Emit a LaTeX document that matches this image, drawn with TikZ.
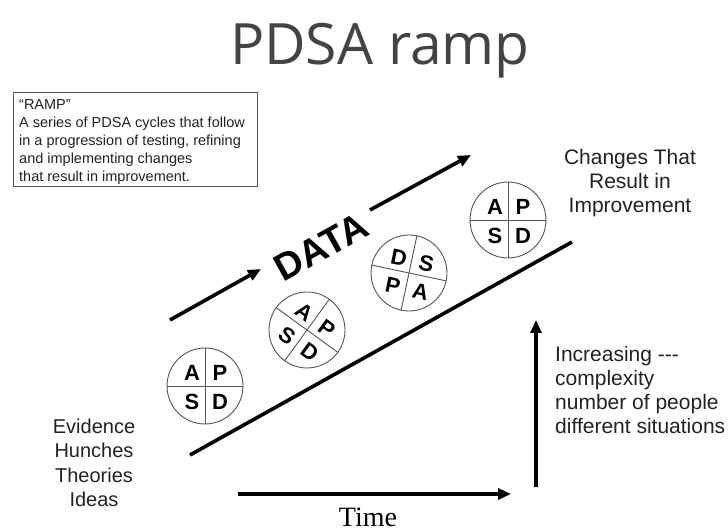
\documentclass[tikz,border=0pt]{standalone}
\usepackage{fontspec}
\setmainfont{Liberation Sans}
\newfontfamily\titlefont{Open Sans}
\newfontfamily\timefont{Liberation Serif}
\usetikzlibrary{arrows.meta}
\definecolor{txt}{HTML}{222222}
\definecolor{ring}{HTML}{555555}
\tikzset{
  thick arrow/.style={line width=3.6pt, -{Triangle[length=13pt,width=11pt]}},
  ramp line/.style={line width=3.6pt},
  pdsa ring/.style={circle, draw=ring, line width=0.9pt, minimum size=76pt, inner sep=0pt},
  divider/.style={draw=ring, line width=0.9pt},
  letter/.style={font=\fontsize{22}{22}\selectfont\bfseries, inner sep=0pt},
  body/.style={font=\fontsize{21}{24}\selectfont, text=txt, inner sep=0pt},
}
\newcommand{\pdsacycle}[7]{%
  \begin{scope}[shift={#1}, rotate=#2, transform shape]
    \node[pdsa ring] (#3) at (0,0) {};
    \draw[divider] (#3.north) -- (#3.south);
    \draw[divider] (#3.west) -- (#3.east);
    \node[letter] (#3-tl) at (-13,13) {#4};
    \node[letter] (#3-tr) at (15,13) {#5};
    \node[letter] (#3-bl) at (-13,-16) {#6};
    \node[letter] (#3-br) at (15,-16) {#7};
  \end{scope}}
\begin{document}
\begin{tikzpicture}[x=1pt,y=1pt]
\useasboundingbox (0,0) rectangle (728,532);
% title
\node[font=\titlefont\fontsize{57}{57}\selectfont, text=txt!85, anchor=base, inner sep=0pt] (title) at (380,467) {PDSA ramp};
% definition box
\node[draw=ring, line width=0.8pt, anchor=north west, minimum width=244pt, minimum height=94pt] (def) at (13,440) {};
\node[anchor=north west, align=flush left, inner sep=0pt, text=txt,
      font=\fontsize{14.5}{18}\selectfont] (deftext) at (19,433)
  {``RAMP''\\A series of PDSA cycles that follow\\in a progression of testing, refining\\and implementing changes\\that result in improvement.};
% DATA arrows
\coordinate (d1s) at (170,212);
\coordinate (d1e) at (261,263);
\coordinate (d2s) at (370,322);
\coordinate (d2e) at (471,377);
\draw[thick arrow] (d1s) -- (d1e);
\draw[thick arrow] (d2s) -- (d2e);
\node[font=\fontsize{38}{38}\selectfont\bfseries, rotate=29, inner sep=0pt] (data) at (321,285) {DATA};
% ramp line
\coordinate (r1) at (190,77);
\coordinate (r2) at (572,290);
\draw[ramp line] (r1) -- (r2);
% PDSA cycles
\pdsacycle{(205,146)}{0}{c1}{A}{P}{S}{D}
\pdsacycle{(307,202)}{-36}{c2}{A}{P}{S}{D}
\pdsacycle{(409,259)}{-12}{c3}{D}{S}{P}{A}
\pdsacycle{(508,312)}{0}{c4}{A}{P}{S}{D}
% labels
\node[body, align=center] (changes) at (630,349) {Changes That\\Result in\\Improvement};
\node[body, align=left, anchor=west] (incr) at (555,142) {Increasing -{}-{}-\\complexity\\number of people\\different situations};
\node[body, align=center, font=\fontsize{20}{24.3}\selectfont] (evid) at (94,69) {Evidence\\Hunches\\Theories\\Ideas};
% vertical arrow
\coordinate (v1) at (536,45);
\coordinate (v2) at (536,212);
\draw[thick arrow] (v1) -- (v2);
% time arrow
\coordinate (t1) at (238,38);
\coordinate (t2) at (511,38);
\draw[thick arrow, line width=4.2pt] (t1) -- (t2);
\node[font=\timefont\fontsize{28}{28}\selectfont, inner sep=0pt] (time) at (368,15) {Time};
\end{tikzpicture}
\end{document}
